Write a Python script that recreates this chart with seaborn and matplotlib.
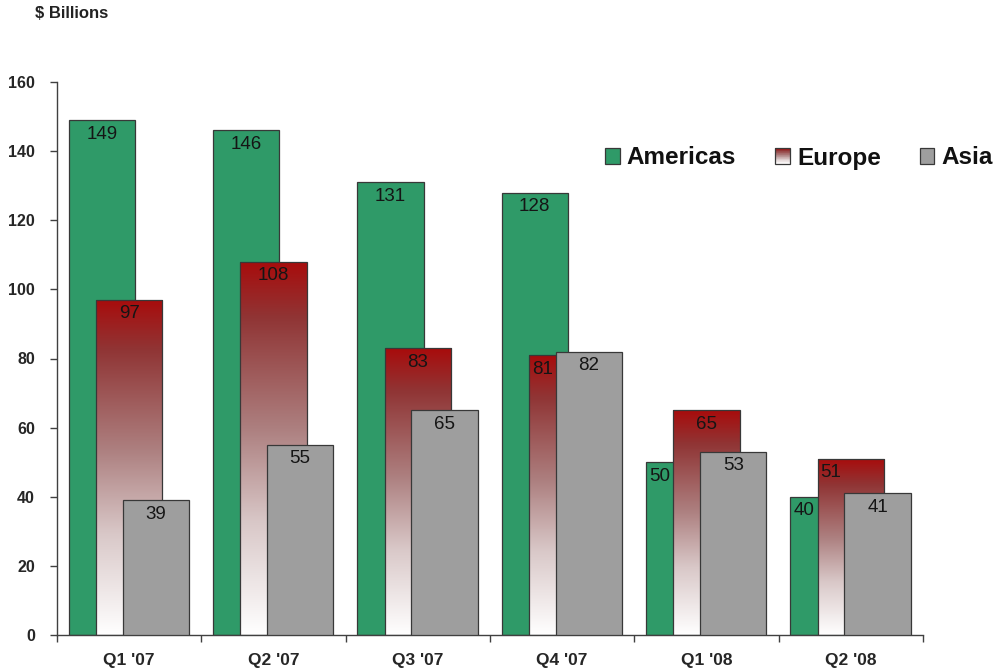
import numpy as np
import pandas as pd
import matplotlib
matplotlib.use("Agg")
import matplotlib.pyplot as plt
from matplotlib.colors import LinearSegmentedColormap
from matplotlib.patches import Rectangle
from matplotlib.legend_handler import HandlerBase
from matplotlib.ticker import MultipleLocator, FixedLocator
import seaborn as sns

# ---- data ($ billions) ----
quarters = ["Q1 '07", "Q2 '07", "Q3 '07", "Q4 '07", "Q1 '08", "Q2 '08"]
americas = [149, 146, 131, 128, 50, 40]
europe = [97, 108, 83, 81, 65, 51]
asia = [39, 55, 65, 82, 53, 41]

series_names = ["Americas", "Europe", "Asia"]
series_values = [americas, europe, asia]

# ---- style ----
sns.set_style("ticks")
plt.rcParams["font.family"] = ["Liberation Sans", "DejaVu Sans"]

GREEN = "#2f9a68"
GREY = "#9e9e9e"
EDGE = "#383838"
europe_cmap = LinearSegmentedColormap.from_list(
    "europe_fade",
    [(0.0, "#ffffff"), (0.3, "#d9c8c8"), (0.55, "#ad8080"),
     (0.85, "#903535"), (1.0, "#a80c0c")],
)

offsets = [-0.19, 0.0, 0.185]
bar_width = 0.46
colors = [GREEN, "none", GREY]
zorders = [1, 2.1, 3]

fig = plt.figure(figsize=(10.04, 6.72), dpi=100)
ax = fig.add_axes([57 / 1004, 37 / 672, 866 / 1004, 553 / 672])

positions = np.arange(len(quarters))
bar_groups = []
for name, vals, off, col, z in zip(series_names, series_values, offsets, colors, zorders):
    df = pd.DataFrame({"pos": positions + off, "value": vals})
    n_before = len(ax.patches)
    sns.barplot(data=df, x="pos", y="value", native_scale=True, width=bar_width,
                color=GREEN if col == "none" else col, saturation=1, errorbar=None,
                edgecolor=EDGE, linewidth=0.9, ax=ax)
    patches = ax.patches[n_before:]
    for p in patches:
        p.set_zorder(z)
    bar_groups.append(patches)

# Europe bars: vertical red-to-white fade clipped to each bar
grad = np.linspace(0, 1, 256).reshape(-1, 1)
for p in bar_groups[1]:
    x0, y0 = p.get_x(), p.get_y()
    w, h = p.get_width(), p.get_height()
    p.set_facecolor("none")
    im = ax.imshow(grad, cmap=europe_cmap, origin="lower", aspect="auto",
                   extent=[x0, x0 + w, y0, y0 + h], zorder=2, interpolation="bicubic")
    im.set_clip_path(p)

ax.set_xlim(-0.5, len(quarters) - 0.5)
ax.set_ylim(0, 160)

# ---- value labels, centred on the visible part of each bar ----
for s, (vals, patches) in enumerate(zip(series_values, bar_groups)):
    for i, (v, p) in enumerate(zip(vals, patches)):
        left, right = p.get_x(), p.get_x() + p.get_width()
        if s < 2:
            nxt = bar_groups[s + 1][i]
            if series_values[s + 1][i] >= v - 10:
                right = nxt.get_x()
        ax.annotate(f"{v}", xy=((left + right) / 2, v), xytext=(0, -4),
                    textcoords="offset points", ha="center", va="top",
                    fontsize=13.5, color="#151515", zorder=6)

# ---- axes cosmetics ----
for side in ("top", "right"):
    ax.spines[side].set_visible(False)
for side in ("left", "bottom"):
    ax.spines[side].set_color("#404040")
    ax.spines[side].set_linewidth(1.0)

ax.yaxis.set_major_locator(MultipleLocator(20))
ax.tick_params(axis="y", direction="out", length=5, width=1, color="#404040",
               pad=11, labelsize=11.5)
for t in ax.get_yticklabels():
    t.set_fontweight("bold")

ax.set_xticks(positions)
ax.set_xticklabels(quarters, fontsize=12.5, fontweight="bold")
ax.xaxis.set_minor_locator(FixedLocator(np.arange(-0.5, len(quarters), 1.0)))
ax.tick_params(axis="x", which="major", length=0, pad=13)
ax.tick_params(axis="x", which="minor", direction="out", length=5, width=1, color="#404040")
ax.set_xlabel("")
ax.set_ylabel("")

fig.text(35 / 1004, 1 - 14 / 672, "$ Billions", fontsize=12, fontweight="bold",
         ha="left", va="center", color="#222222")


# ---- legend ----
class GradientHandler(HandlerBase):
    def create_artists(self, legend, orig_handle, xdescent, ydescent, width, height,
                       fontsize, trans):
        arts = []
        n = 24
        for k in range(n):
            frac = (k + 0.5) / n
            arts.append(Rectangle((-xdescent, -ydescent + height * k / n), width,
                                  height / n, facecolor=europe_cmap(frac),
                                  edgecolor="none", transform=trans))
        arts.append(Rectangle((-xdescent, -ydescent), width, height, facecolor="none",
                              edgecolor=EDGE, linewidth=0.9, transform=trans))
        return arts


h_am = Rectangle((0, 0), 1, 1, facecolor=GREEN, edgecolor=EDGE, linewidth=0.9)
h_eu = Rectangle((0, 0), 1, 1, facecolor="white", edgecolor=EDGE, linewidth=0.9)
h_as = Rectangle((0, 0), 1, 1, facecolor=GREY, edgecolor=EDGE, linewidth=0.9)
leg = fig.legend([h_am, h_eu, h_as], series_names, handler_map={h_eu: GradientHandler()},
                 loc="center left", bbox_to_anchor=(605 / 1004, 1 - 158 / 672),
                 bbox_transform=fig.transFigure, ncol=3, frameon=False,
                 prop={"size": 17.5, "weight": "bold"}, handlelength=0.6,
                 handleheight=0.6, handletextpad=0.3, columnspacing=1.6,
                 borderpad=0, borderaxespad=0)
for t in leg.get_texts():
    t.set_color("#111111")

fig.savefig("out.png", dpi=100)
